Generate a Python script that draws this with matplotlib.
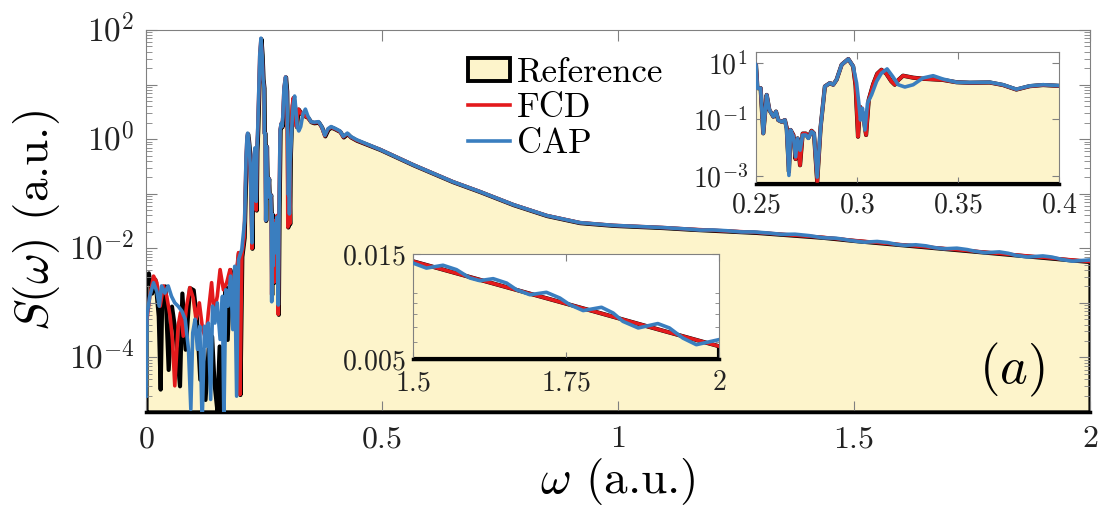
import numpy as np
import matplotlib
matplotlib.use('Agg')
import matplotlib.pyplot as plt
from matplotlib.patches import Patch
from matplotlib.lines import Line2D
from matplotlib.ticker import FixedLocator, NullFormatter, LogLocator, NullLocator

plt.rcParams['font.family'] = 'serif'
plt.rcParams['font.serif'] = ['cmr10']
plt.rcParams['mathtext.fontset'] = 'cm'
plt.rcParams['axes.formatter.use_mathtext'] = True

# ---- data (omega in a.u., log10 of S(omega)) ----
# reference, low-frequency part (above 0.175 it follows FCD)
ref_w_low = [0.000, 0.005, 0.012, 0.019, 0.026, 0.030, 0.033, 0.040, 0.047, 0.054,
             0.061, 0.071, 0.076, 0.083, 0.092, 0.100, 0.107, 0.114, 0.120, 0.125,
             0.132, 0.139, 0.144, 0.150, 0.155, 0.160, 0.167, 0.172]
ref_log_low = [-2.55, -2.45, -2.82, -2.57, -3.24, -4.58, -3.06, -2.69, -4.22, -3.06,
               -3.49, -4.52, -2.82, -3.85, -2.72, -2.76, -3.30, -4.40, -3.85, -4.77,
               -3.79, -3.61, -4.46, -4.95, -3.79, -5.20, -2.69, -3.67]

# FCD, low-frequency part
fcd_w_low = [0.000, 0.008, 0.016, 0.023, 0.030, 0.037, 0.044, 0.051, 0.056, 0.061,
             0.068, 0.073, 0.079, 0.086, 0.093, 0.100, 0.106, 0.113, 0.120, 0.127,
             0.132, 0.139, 0.144, 0.151, 0.157, 0.164, 0.171, 0.178, 0.188, 0.196,
             0.199, 0.203, 0.208]
fcd_log_low = [-3.45, -2.88, -2.51, -2.63, -3.06, -2.69, -2.88, -3.24, -3.67, -4.52,
               -3.43, -3.18, -3.61, -3.06, -2.72, -2.91, -3.30, -3.00, -3.49, -3.67,
               -3.18, -2.63, -3.18, -2.88, -2.39, -2.76, -2.63, -2.39, -2.76, -2.08,
               -4.68, -2.15, -1.80]

# CAP, low-frequency part
cap_w_low = [0.000, 0.002, 0.008, 0.016, 0.023, 0.028, 0.033, 0.040, 0.047, 0.054,
             0.061, 0.068, 0.076, 0.083, 0.090, 0.095, 0.099, 0.104, 0.109, 0.114,
             0.119, 0.124, 0.128, 0.132, 0.137, 0.141, 0.146, 0.151, 0.157, 0.162,
             0.165, 0.169, 0.174, 0.179, 0.184, 0.188, 0.192, 0.196, 0.200, 0.203,
             0.206, 0.209]
cap_log_low = [-4.71, -3.24, -2.88, -2.63, -2.79, -3.06, -2.69, -2.82, -2.69, -2.88,
               -3.00, -3.06, -3.15, -3.30, -3.85, -4.95, -3.55, -3.30, -3.85, -3.43,
               -5.20, -3.43, -3.79, -3.37, -4.77, -3.06, -3.37, -3.00, -3.67, -2.88,
               -5.20, -2.76, -3.06, -2.51, -3.49, -2.33, -4.71, -2.21, -2.10, -2.02,
               -1.75, -1.50]

# main peaks 0.21-0.25
peak_w = [0.2119, 0.2140, 0.2154, 0.2170, 0.2190, 0.2210, 0.2230, 0.2245, 0.2260,
          0.2290, 0.2309, 0.2320, 0.2335, 0.2350, 0.2370, 0.2390, 0.2410, 0.2436,
          0.2460, 0.2480, 0.2500, 0.2507]
cap_log_peak = [-0.35, 0.05, 0.11, 0.02, -0.15, -0.55, -1.20, -1.90, -0.75,
                -0.30, -0.16, -0.60, -1.14, -0.20, 0.25, 0.90, 1.55, 1.85,
                1.55, 1.10, 0.94, 0.11]
fcd_log_peak = [-0.40, 0.03, 0.10, 0.00, -0.18, -0.60, -1.30, -2.00, -0.80,
                -0.32, -0.18, -0.65, -1.30, -0.22, 0.22, 0.88, 1.52, 1.84,
                1.55, 1.10, 0.94, 0.11]

# 0.25-0.45 (inset window and just beyond)
cap_w_mid = [0.2523, 0.2536, 0.2553, 0.2566, 0.2586, 0.2599, 0.2610, 0.2627, 0.2643,
             0.2652, 0.2663, 0.2671, 0.2685, 0.2696, 0.2706, 0.2718, 0.2731, 0.2747,
             0.2759, 0.2775, 0.2787, 0.2803, 0.2820, 0.2841, 0.2866, 0.2882, 0.2899,
             0.2924, 0.2957, 0.2981, 0.2998, 0.3009, 0.3017, 0.3027, 0.3039, 0.3052,
             0.3072, 0.3097, 0.3121, 0.3149, 0.3176, 0.3204, 0.3237, 0.3278, 0.3327,
             0.3377, 0.3426, 0.3492, 0.3558, 0.3657, 0.3723, 0.3789, 0.3855, 0.3921,
             0.4000, 0.4110, 0.4180, 0.4266, 0.4336, 0.4460]
cap_log_mid = [0.11, -1.49, -0.13, -0.66, -0.90, -0.72, -1.02, -1.08, -1.02,
               -1.37, -2.98, -1.37, -1.61, -2.32, -1.67, -2.09, -1.55, -1.55,
               -1.67, -1.43, -1.49, -3.04, -1.26, 0.17, 0.29, 0.23, 0.41,
               0.94, 1.14, 0.88, 0.29, -0.42, -1.02, -0.60, -1.37, -0.42,
               -0.13, 0.35, 0.64, 0.79, 0.53, 0.23, 0.15, 0.23, 0.47,
               0.55, 0.43, 0.32, 0.31, 0.32, 0.23, 0.07, 0.19, 0.23,
               0.20, 0.15, 0.05, 0.11, 0.05, -0.01]
fcd_w_mid = [0.2523, 0.2536, 0.2553, 0.2566, 0.2586, 0.2599, 0.2610, 0.2627, 0.2643,
             0.2652, 0.2663, 0.2671, 0.2685, 0.2696, 0.2706, 0.2718, 0.2731, 0.2747,
             0.2759, 0.2775, 0.2787, 0.2803, 0.2820, 0.2841, 0.2866, 0.2882, 0.2899,
             0.2924, 0.2957, 0.2981, 0.2993, 0.3005, 0.3015, 0.3030, 0.3045, 0.3058,
             0.3080, 0.3100, 0.3121, 0.3145, 0.3170, 0.3187, 0.3205, 0.3228, 0.3278,
             0.3330, 0.3380, 0.3426, 0.3492, 0.3558, 0.3657, 0.3723, 0.3789, 0.3855,
             0.3921, 0.4000, 0.4110, 0.4180, 0.4266, 0.4336, 0.4460]
fcd_log_mid = [0.11, -1.49, -0.13, -0.66, -0.90, -0.72, -1.02, -1.08, -1.02,
               -1.30, -2.85, -1.37, -1.55, -2.40, -1.67, -2.62, -1.50, -1.50,
               -1.65, -1.40, -1.49, -3.21, -1.26, 0.17, 0.29, 0.23, 0.41,
               0.94, 1.14, 0.88, 0.20, -1.61, -0.55, -0.80, -1.55, -0.30,
               0.25, 0.62, 0.76, 0.62, 0.35, 0.23, 0.40, 0.55, 0.48,
               0.44, 0.42, 0.40, 0.32, 0.30, 0.31, 0.22, 0.06, 0.18,
               0.22, 0.19, 0.14, 0.04, 0.10, 0.04, -0.02]

# smooth tail, FCD
tail_w = [0.496, 0.566, 0.650, 0.707, 0.778, 0.849, 0.919, 0.990, 1.095, 1.153,
          1.294, 1.435, 1.500, 1.600, 1.700, 1.800, 1.900, 2.000]
tail_log = [-0.19, -0.47, -0.78, -0.96, -1.20, -1.40, -1.53, -1.58, -1.62, -1.65,
            -1.71, -1.80, -1.857, -1.934, -2.011, -2.088, -2.166, -2.243]

# CAP wiggles on the tail
cap_w_tail = [1.174, 1.200, 1.230, 1.261, 1.288, 1.318, 1.348, 1.375, 1.405, 1.435,
              1.462, 1.480, 1.500, 1.522, 1.549, 1.571, 1.593, 1.609, 1.631, 1.653,
              1.669, 1.691, 1.718, 1.740, 1.756, 1.778, 1.808, 1.827, 1.843, 1.868,
              1.900, 1.919, 1.941, 1.963, 2.000]
cap_log_tail = [-1.666, -1.664, -1.678, -1.700, -1.700, -1.720, -1.745, -1.742, -1.768,
                -1.808, -1.815, -1.838, -1.865, -1.888, -1.875, -1.895, -1.933, -1.945,
                -1.936, -1.956, -1.986, -2.009, -1.998, -2.024, -2.054, -2.081, -2.066,
                -2.092, -2.130, -2.160, -2.140, -2.160, -2.206, -2.236, -2.213]

# assemble series
fcd_w = np.array(fcd_w_low + peak_w + fcd_w_mid + tail_w)
fcd_s = 10.0 ** np.array(fcd_log_low + fcd_log_peak + fcd_log_mid + tail_log)

n_tail = sum(w <= 1.153 for w in tail_w)
cap_w = np.array(cap_w_low + peak_w + cap_w_mid + tail_w[:n_tail] + cap_w_tail)
cap_s = 10.0 ** np.array(cap_log_low + cap_log_peak + cap_log_mid
                         + tail_log[:n_tail] + cap_log_tail)

keep = fcd_w > 0.175
ref_w = np.concatenate([ref_w_low, fcd_w[keep]])
ref_s = np.concatenate([10.0 ** np.array(ref_log_low), fcd_s[keep]])

# ---- style ----
yellow = '#fdf4cb'
red = '#e31a1c'
blue = '#3a7ebf'
grey = '#808080'
lw = 2.6


def draw(ax, ybottom):
    ax.fill_between(ref_w, ref_s, ybottom, facecolor=yellow, edgecolor='k',
                    linewidth=3.0, zorder=1)
    ax.plot(fcd_w, fcd_s, color=red, lw=lw, zorder=2)
    ax.plot(cap_w, cap_s, color=blue, lw=lw, zorder=3)
    ax.set_yscale('log')
    for sp in ax.spines.values():
        sp.set_color(grey)
        sp.set_linewidth(0.8)
    ax.spines['bottom'].set_color('k')
    ax.spines['bottom'].set_linewidth(2.5)
    ax.tick_params(which='both', direction='in', top=True, right=True,
                   color=grey, labelcolor='#222222')


fig = plt.figure(figsize=(11, 5.12), dpi=100)

# main axes
ax = fig.add_axes([146 / 1100, 1 - 412 / 512, 944 / 1100, 382 / 512])
draw(ax, 1e-5)
ax.set_xlim(0, 2)
ax.set_ylim(1e-5, 1e2)
ax.set_xticks([0, 0.5, 1, 1.5, 2])
ax.set_xticklabels(['$0$', '$0.5$', '$1$', '$1.5$', '$2$'])
ax.yaxis.set_major_locator(FixedLocator([1e-5, 1e-4, 1e-3, 1e-2, 1e-1, 1e0, 1e1, 1e2]))
ax.yaxis.set_major_formatter(NullFormatter())
ax.yaxis.set_minor_locator(LogLocator(base=10, subs=np.arange(2, 10)))
ax.yaxis.set_minor_formatter(NullFormatter())
for v, lab in [(1e2, '$10^{2}$'), (1e0, '$10^{0}$'), (1e-2, '$10^{-2}$'), (1e-4, '$10^{-4}$')]:
    ax.text(-0.012, v, lab, transform=ax.get_yaxis_transform(), ha='right',
            va='center', fontsize=24, color='#222222')
ax.tick_params(axis='x', which='major', labelsize=23, length=8, pad=10)
ax.tick_params(axis='y', which='major', length=8)
ax.tick_params(axis='y', which='minor', length=4)
ax.set_xlabel(r'$\omega$ (a.u.)', fontsize=34, labelpad=2)
fig.text(37 / 1100, 1 - 221 / 512, r'$S(\omega)$ (a.u.)', rotation=90,
         ha='center', va='center', fontsize=34)
ax.text(0.917, 0.11, r'$(a)$', transform=ax.transAxes, ha='center',
        va='center', fontsize=38)

handles = [Patch(facecolor=yellow, edgecolor='k', linewidth=2.8, label='Reference'),
           Line2D([], [], color=red, lw=lw, label='FCD'),
           Line2D([], [], color=blue, lw=lw, label='CAP')]
fig.legend(handles=handles, loc='upper left', bbox_to_anchor=(468 / 1100, 1 - 57 / 512),
           frameon=False, fontsize=25, handlelength=1.22, handleheight=0.68,
           handletextpad=0.2, labelspacing=0.12, borderpad=0, borderaxespad=0)

# inset 1: 0.25-0.4
ax1 = fig.add_axes([756 / 1100, 1 - 184 / 512, 303 / 1100, 132 / 512])
ax1.set_facecolor('white')
draw(ax1, 5.2e-4)
ax1.set_xlim(0.25, 0.4)
ax1.set_ylim(5.2e-4, 24.5)
ax1.set_xticks([0.25, 0.3, 0.35, 0.4])
ax1.set_xticklabels(['$0.25$', '$0.3$', '$0.35$', '$0.4$'])
ax1.yaxis.set_major_locator(FixedLocator([1e-3, 1e-1, 1e1]))
ax1.set_yticklabels(['$10^{-3}$', '$10^{-1}$', '$10^{1}$'])
ax1.yaxis.set_minor_locator(NullLocator())
ax1.tick_params(labelsize=20, length=5, pad=6)

# inset 2: 1.5-2
ax2 = fig.add_axes([413 / 1100, 1 - 359 / 512, 306 / 1100, 105 / 512])
ax2.set_facecolor('white')
draw(ax2, 0.005)
ax2.set_xlim(1.5, 2)
ax2.set_ylim(0.005, 0.015)
ax2.set_xticks([1.5, 1.75, 2])
ax2.set_xticklabels(['$1.5$', '$1.75$', '$2$'])
ax2.yaxis.set_major_locator(FixedLocator([0.005, 0.015]))
ax2.set_yticklabels(['$0.005$', '$0.015$'])
ax2.yaxis.set_minor_locator(FixedLocator([0.006, 0.007, 0.008, 0.009, 0.01]))
ax2.yaxis.set_minor_formatter(NullFormatter())
ax2.tick_params(labelsize=20, length=5, pad=5)
ax2.tick_params(axis='x', pad=8)
ax2.tick_params(which='minor', length=3)

fig.savefig('out.png', dpi=100)
